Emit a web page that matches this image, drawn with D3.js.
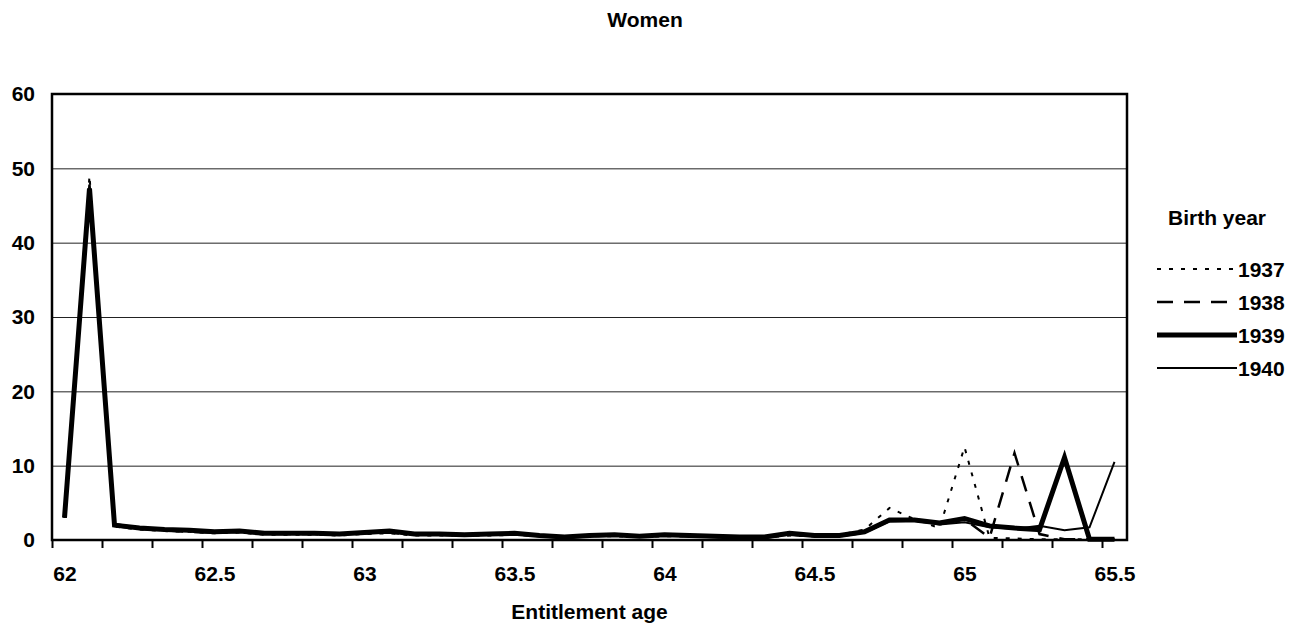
<!DOCTYPE html>
<html>
<head>
<meta charset="utf-8">
<script src="https://cdnjs.cloudflare.com/ajax/libs/d3/7.8.5/d3.min.js"></script>
<style>
    body { margin: 0; background: #fff; }
    svg text { font-family: "Liberation Sans", Arial, sans-serif; font-weight: bold; fill: #000; }
</style>
</head>
<body>
<div class="chart"></div>
<script>
// month categories, 62 to 65.5 by month
var ages = d3.range(43).map(function(m) { return 62 + m / 12; });
var xLabels = [62, 62.5, 63, 63.5, 64, 64.5, 65, 65.5];
var yTicks = [0, 10, 20, 30, 40, 50, 60];

var years = ["1937", "1938", "1939", "1940"];

// share of women (%) by entitlement age
var women1937 = [3.0, 49.0, 1.8, 1.4, 1.2, 1.1, 0.9, 1.0, 0.7, 0.7, 0.7, 0.6, 0.8, 0.9, 0.6, 0.6, 0.6, 0.6, 0.7, 0.5, 0.3, 0.5,
    0.5, 0.4, 0.5, 0.5, 0.4, 0.3, 0.3, 0.6, 0.5, 0.7, 1.4, 4.3, 2.8, 1.6, 12.5, 0.3, 0.2, 0.1, 0.1, 0.1, 0.1];
var women1938 = [3.0, 47.8, 1.9, 1.5, 1.3, 1.1, 1.0, 1.1, 0.8, 0.8, 0.8, 0.7, 0.9, 1.0, 0.7, 0.7, 0.6, 0.7, 0.8, 0.5, 0.3, 0.5,
    0.6, 0.5, 0.6, 0.5, 0.4, 0.3, 0.3, 0.7, 0.5, 0.5, 1.0, 2.6, 2.6, 2.3, 2.8, 0.3, 11.7, 0.8, 0.1, 0.1, 0.1];
var women1939 = [3.0, 47.3, 2.0, 1.6, 1.4, 1.3, 1.1, 1.2, 0.9, 0.9, 0.9, 0.8, 1.0, 1.2, 0.8, 0.8, 0.7, 0.8, 0.9, 0.6, 0.4, 0.6,
    0.7, 0.5, 0.7, 0.6, 0.5, 0.4, 0.4, 0.9, 0.6, 0.6, 1.1, 2.7, 2.7, 2.3, 2.9, 1.9, 1.6, 1.4, 11.1, 0.1, 0.1];
var women1940 = [3.0, 47.0, 2.2, 1.6, 1.4, 1.2, 1.1, 1.1, 0.9, 0.9, 0.8, 0.8, 0.9, 1.1, 0.8, 0.7, 0.7, 0.7, 0.8, 0.6, 0.4, 0.6,
    0.6, 0.5, 0.6, 0.6, 0.5, 0.4, 0.4, 0.7, 0.5, 0.5, 1.0, 2.5, 2.6, 2.1, 2.4, 1.7, 1.5, 1.9, 1.3, 1.7, 10.5];

var seriesValues = [women1937, women1938, women1939, women1940];

// line look per birth year
var styles = [
    {width: 2, dash: "4,8"},
    {width: 2.5, dash: "16,11"},
    {width: 5, dash: null},
    {width: 2, dash: null}
];

var W = 1299, H = 624;
var plot = {left: 52, top: 94, right: 1127, bottom: 540};

var svg = d3.select(".chart").append("svg")
    .attr("width", W)
    .attr("height", H);

// half a month either side so points sit in the middle of each category
var x = d3.scaleLinear()
    .domain([62 - 1 / 24, 65.5 + 1 / 24])
    .range([plot.left, plot.right]);
var y = d3.scaleLinear()
    .domain([0, 60])
    .range([plot.bottom, plot.top]);

// gridlines
svg.append("g")
    .attr("transform", "translate(" + plot.left + ",0)")
    .call(d3.axisLeft(y).tickValues([10, 20, 30, 40, 50]).tickSize(-(plot.right - plot.left)).tickFormat(""))
    .call(function(g) { g.select(".domain").remove(); })
    .selectAll("line")
    .attr("stroke", "#222")
    .attr("stroke-width", 1);

// tick marks between every second category
var tickPos = d3.range(22).map(function(k) { return 62 - 1 / 24 + k / 6; });
svg.append("g")
    .attr("transform", "translate(0," + plot.bottom + ")")
    .call(d3.axisBottom(x).tickValues(tickPos).tickSize(8).tickFormat(""))
    .call(function(g) { g.select(".domain").remove(); })
    .selectAll("line")
    .attr("stroke", "#000")
    .attr("stroke-width", 2);

// x labels
svg.append("g")
    .attr("transform", "translate(0," + plot.bottom + ")")
    .call(d3.axisBottom(x).tickValues(xLabels).tickSize(0).tickPadding(26).tickFormat(function(d) { return d; }))
    .call(function(g) { g.select(".domain").remove(); })
    .selectAll("text")
    .style("font-size", "21px");

// y labels
svg.append("g")
    .attr("transform", "translate(" + plot.left + ",0)")
    .call(d3.axisLeft(y).tickValues(yTicks).tickSize(0).tickPadding(17))
    .call(function(g) { g.select(".domain").remove(); })
    .selectAll("text")
    .style("font-size", "21px");

// plot frame
svg.append("rect")
    .attr("x", plot.left)
    .attr("y", plot.top)
    .attr("width", plot.right - plot.left)
    .attr("height", plot.bottom - plot.top)
    .attr("fill", "none")
    .attr("stroke", "#000")
    .attr("stroke-width", 2.5);

// the lines
var line = d3.line()
    .x(function(d, i) { return x(ages[i]); })
    .y(function(d) { return y(d); });

svg.selectAll(".series")
    .data(seriesValues)
    .enter()
    .append("path")
    .attr("class", "series")
    .attr("d", line)
    .attr("fill", "none")
    .attr("stroke", "#000")
    .attr("stroke-width", function(d, i) { return styles[i].width; })
    .attr("stroke-dasharray", function(d, i) { return styles[i].dash; });

// titles
svg.append("text")
    .attr("x", 645)
    .attr("y", 27)
    .attr("text-anchor", "middle")
    .style("font-size", "21px")
    .text("Women");

svg.append("text")
    .attr("x", (plot.left + plot.right) / 2)
    .attr("y", 619)
    .attr("text-anchor", "middle")
    .style("font-size", "21px")
    .text("Entitlement age");

// legend
var legend = svg.append("g");
legend.append("text")
    .attr("x", 1168)
    .attr("y", 225)
    .style("font-size", "21px")
    .text("Birth year");

var items = legend.selectAll(".item")
    .data(years)
    .enter()
    .append("g")
    .attr("class", "item")
    .attr("transform", function(d, i) { return "translate(0," + (269 + i * 33) + ")"; });

items.append("line")
    .attr("x1", 1157)
    .attr("x2", 1237)
    .attr("stroke", "#000")
    .attr("stroke-width", function(d, i) { return styles[i].width; })
    .attr("stroke-dasharray", function(d, i) { return styles[i].dash; });

items.append("text")
    .attr("x", 1238)
    .attr("dy", "0.36em")
    .style("font-size", "21px")
    .text(function(d) { return d; });
</script>
</body>
</html>
